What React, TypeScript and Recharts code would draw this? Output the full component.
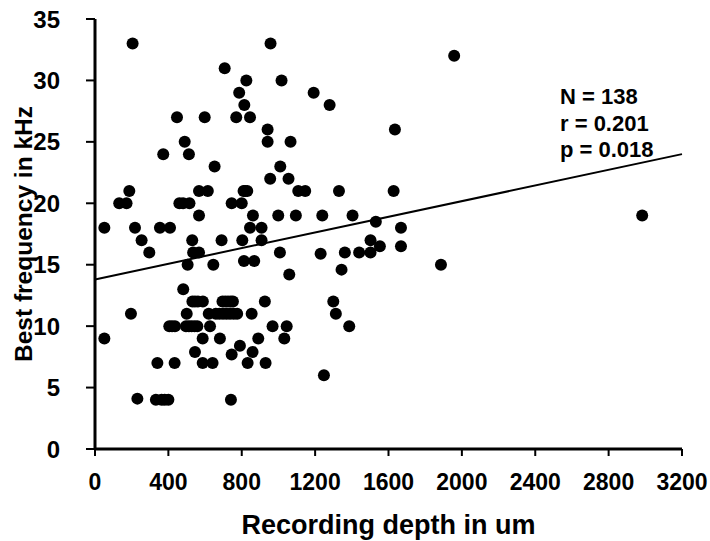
import React from 'react';
import { ScatterChart, Scatter, XAxis, YAxis, ReferenceLine, Label } from 'recharts';

const depths = [
  205, 957, 707, 825, 1017, 1192, 786, 814, 1279, 447, 598, 770, 845, 941, 1635, 941, 1066, 489, 512, 372,
  652, 1010, 955, 1055, 187, 567, 615, 810, 830, 1108, 1146, 1330, 1628, 132, 172, 460, 515, 745, 800, 567,
  861, 999, 1095, 1239, 1404, 1958, 2983, 1531, 51, 218, 354, 409, 845, 908, 1668, 254, 530, 690, 803, 908,
  1502, 296, 535, 567, 1008, 1362, 1440, 1502, 1553, 1668, 1230, 505, 645, 812, 868, 1886, 1059, 1344, 481, 531,
  561, 588, 695, 725, 752, 926, 1299, 196, 500, 620, 659, 698, 736, 775, 854, 1313, 405, 436, 496, 527,
  558, 627, 968, 1045, 1386, 51, 587, 681, 890, 1032, 790, 545, 745, 859, 340, 434, 587, 641, 832, 930,
  231, 332, 363, 400, 741, 1248, 545, 710, 740, 678, 717, 756, 420, 512, 543, 380, 818, 480,
];
const freqs = [
  33, 33, 31, 30, 30, 29, 29, 28, 28, 27, 27, 27, 27, 26, 26, 25, 25, 25, 24, 24,
  23, 23, 22, 22, 21, 21, 21, 21, 21, 21, 21, 21, 21, 20, 20, 20, 20, 20, 20, 19,
  19, 19, 19, 19, 19, 32, 19, 18.5, 18, 18, 18, 18, 18, 18, 18, 17, 17, 17, 17, 17,
  17, 16, 16, 16, 16, 16, 16, 16, 16.5, 16.5, 15.9, 15, 15, 15.3, 15.3, 15, 14.2, 14.6, 13, 12,
  12, 12, 12, 12, 12, 12, 12, 11, 11, 11, 11, 11, 11, 11, 11, 11, 10, 10, 10, 10,
  10, 10, 10, 10, 10, 9, 9, 9, 9, 9, 8.4, 7.9, 7.7, 7.9, 7, 7, 7, 7, 7, 7,
  4.1, 4, 4, 4, 4, 6, 12, 12, 12, 11, 11, 11, 10, 10, 10, 4, 21, 20,
];
const regressionX = [0, 3200];
const regressionY = [13.8, 24.0];
const xTicks = [0, 400, 800, 1200, 1600, 2000, 2400, 2800, 3200];
const yTicks = [0, 5, 10, 15, 20, 25, 30, 35];
const statsLines = ['N = 138', 'r = 0.201', 'p = 0.018'];

const points = depths.map((d, i) => ({ x: d, y: freqs[i] }));
const FONT = '"Liberation Sans", Arial, sans-serif';

const Dot = (props: any) => <circle cx={props.cx} cy={props.cy} r={6} fill="#000" />;

export default function App() {
  return (
    <div style={{ position: 'absolute', left: 0, top: 0, width: 710, height: 541, background: '#fff' }}>
      <ScatterChart width={710} height={541} margin={{ top: 19, right: 28, bottom: 0, left: 0 }}>
        <XAxis
          type="number"
          dataKey="x"
          domain={[0, 3200]}
          ticks={xTicks}
          height={92}
          axisLine={{ stroke: '#000', strokeWidth: 3 }}
          tickLine={{ stroke: '#000', strokeWidth: 2 }}
          tickSize={7}
          tickMargin={18}
          tick={{ fill: '#000', fontSize: 23, fontWeight: 'bold', fontFamily: FONT }}
          allowDataOverflow
        >
          <Label
            value="Recording depth in um"
            position="insideBottom"
            offset={7}
            style={{ fill: '#000', fontSize: 27, fontWeight: 'bold', fontFamily: FONT }}
          />
        </XAxis>
        <YAxis
          type="number"
          dataKey="y"
          domain={[0, 35]}
          ticks={yTicks}
          width={95}
          axisLine={{ stroke: '#000', strokeWidth: 3 }}
          tickLine={{ stroke: '#000', strokeWidth: 2 }}
          tickSize={9}
          tickMargin={26}
          tick={{ fill: '#000', fontSize: 24, fontWeight: 'bold', fontFamily: FONT }}
          allowDataOverflow
        >
          <Label
            value="Best frequency in kHz"
            angle={-90}
            position="insideLeft"
            offset={23}
            style={{ fill: '#000', fontSize: 24.5, fontWeight: 'bold', fontFamily: FONT, textAnchor: 'middle' }}
          />
        </YAxis>
        <ReferenceLine
          segment={[
            { x: regressionX[0], y: regressionY[0] },
            { x: regressionX[1], y: regressionY[1] },
          ]}
          stroke="#000"
          strokeWidth={2}
          ifOverflow="visible"
        />
        <Scatter data={points} shape={Dot} isAnimationActive={false} />
      </ScatterChart>
      <div
        style={{
          position: 'absolute',
          left: 560,
          top: 84,
          fontFamily: FONT,
          fontWeight: 'bold',
          fontSize: 22,
          lineHeight: '26.5px',
          color: '#000',
          whiteSpace: 'nowrap',
        }}
      >
        {statsLines.map((s) => (
          <div key={s}>{s}</div>
        ))}
      </div>
    </div>
  );
}
